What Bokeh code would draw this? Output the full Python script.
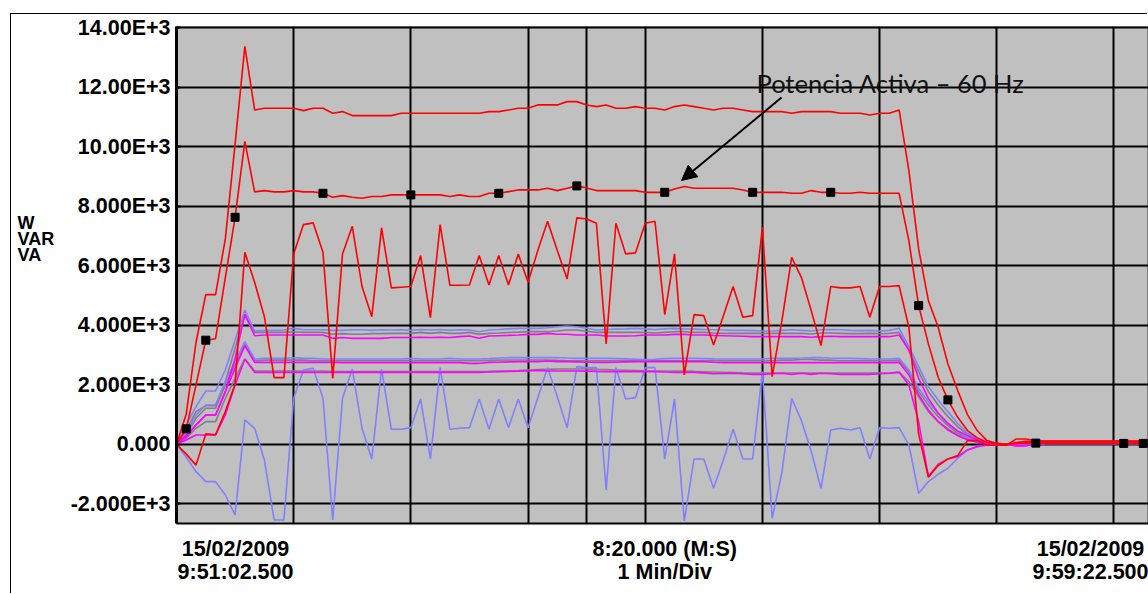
from bokeh.plotting import figure
from bokeh.models import Range1d, FixedTicker, Label, Arrow, NormalHead
from bokeh.embed import file_html
from bokeh.resources import INLINE

# ---------------- data ----------------
# samples every 5 s over 8:20 (500 s)
time_s = [5 * i for i in range(101)]

y_ticks = [-2000, 0, 2000, 4000, 6000, 8000, 10000, 12000, 14000]
y_tick_labels = ["-2.000E+3", "0.000", "2.000E+3", "4.000E+3", "6.000E+3",
                 "8.000E+3", "10.00E+3", "12.00E+3", "14.00E+3"]
x_grid_s = [60, 120, 180, 210, 240, 300, 360, 420, 480]

left_lines = ["15/02/2009", "9:51:02.500"]
center_lines = ["8:20.000 (M:S)", "1 Min/Div"]
right_lines = ["15/02/2009", "9:59:22.500"]
y_title_lines = ["W", "VAR", "VA"]
note_text = "Potencia Activa \u2013 60 Hz"

red_va = [0, 1022, 3430, 5030, 5030, 6905, 10090, 13378, 11240,
          11294, 11294, 11294, 11294, 11217, 11294, 11294, 11126, 11183, 11049, 11049,
          11049, 11049, 11049, 11126, 11126, 11126, 11126, 11126, 11126, 11126, 11126,
          11126, 11183, 11183, 11240, 11294, 11294, 11408, 11408, 11408, 11519, 11519,
          11408, 11351, 11408, 11294, 11294, 11351, 11294, 11294, 11240, 11351, 11408,
          11351, 11294, 11240, 11294, 11294, 11240, 11183, 11183, 11183, 11183, 11126,
          11183, 11183, 11183, 11183, 11126, 11126, 11126, 11072, 11126, 11126, 11240,
          9200, 6568, 4830, 3934, 2700, 1806, 1000, 462, 125, 34,
          0, 60, 100, 100, 100, 100, 100, 100, 100, 100, 100, 100, 100, 100, 100, 100]

red_w = [0, 520, 2000, 3500, 3550, 5600, 7630, 10185, 8484,
         8528, 8484, 8484, 8528, 8484, 8484, 8437, 8303, 8360, 8303, 8269,
         8330, 8330, 8384, 8384, 8384, 8384, 8384, 8384, 8330, 8384, 8330,
         8330, 8437, 8437, 8494, 8551, 8551, 8551, 8606, 8528, 8606, 8686,
         8618, 8528, 8528, 8528, 8528, 8528, 8470, 8470, 8470, 8585, 8663,
         8606, 8606, 8606, 8606, 8606, 8551, 8470, 8470, 8470, 8470, 8437,
         8437, 8528, 8470, 8470, 8437, 8437, 8470, 8437, 8437, 8437, 8437,
         6848, 4663, 3376, 2254, 1493, 908, 462, 216, 67, 34,
         0, 30, 50, 40, 30, 30, 30, 30, 30, 30, 30, 30, 30, 30, 30, 30]

red_var = [0, -330, -700, 350, 320, 1100, 2030, 6455, 5446,
           4290, 2240, 2240, 6400, 7385, 7442, 6455, 2218, 6400, 7328, 5302,
           4290, 7274, 5258, 5280, 5302, 6343, 4256, 7385, 5346, 5346, 5355,
           6343, 5355, 6343, 5355, 6400, 5446, 6511, 7497, 6511, 5560, 7610,
           7576, 7430, 3376, 7430, 6400, 6434, 7430, 7497, 4360, 6400, 2334,
           4360, 4325, 3342, 4310, 5302, 4270, 4325, 7296, 2276, 4157, 6287,
           5604, 4494, 3320, 5302, 5258, 5258, 5302, 4270, 5302, 5302, 5335,
           3934, 351, -1108, -716, -492, -379, 125, 125, -33, -33,
           -33, 180, 180, 120, 110, 110, 110, 110, 110, 110, 110, 110, 110, 110, 110, 110]

blue_var = [0, -437, -918, -1254, -1254, -1702, -2374, 818, 538,
            -526, -2542, -2542, 1546, 2498, 2554, 1546, -2542, 1546, 2531, 538,
            -493, 2531, 504, 504, 560, 1523, -493, 2576, 504, 538, 560,
            1523, 504, 1523, 560, 1523, 560, 1568, 2576, 1602, 560, 2610,
            2576, 2576, -1534, 2576, 1523, 1568, 2576, 2576, -493, 1523, -2576,
            -493, -493, -1478, -526, 504, -493, -493, 2442, -2486, -941, 1546,
            795, -235, -1478, 482, 538, 482, 560, -493, 560, 538, 560,
            -22, -1646, -1254, -1008, -806, -470, -190, -78, -22, 0,
            0, -45, -40, 0, 30, 30, 30, 30, 30, 30, 30, 30, 30, 30, 30, 30]

blue_va = [0, 650, 1266, 1792, 1792, 2498, 3506, 4514, 3808,
           3830, 3830, 3840, 3898, 3850, 3850, 3850, 3830, 3830, 3850, 3850,
           3830, 3850, 3840, 3850, 3830, 3860, 3840, 3860, 3830, 3850, 3840,
           3786, 3842, 3860, 3880, 3898, 3898, 3898, 3920, 3950, 3976, 3954,
           3900, 3842, 3860, 3870, 3880, 3898, 3880, 3860, 3880, 3898, 3880,
           3870, 3860, 3850, 3840, 3830, 3830, 3820, 3808, 3808, 3830, 3850,
           3830, 3808, 3850, 3860, 3850, 3830, 3820, 3830, 3808, 3830, 3900,
           3282, 2610, 1938, 1490, 1098, 706, 370, 180, 67, 0,
           0, -45, -40, 0, 40, 40, 40, 40, 40, 40, 40, 40, 40, 40, 40, 40]

blue_w = [0, 370, 986, 1322, 1322, 2106, 2778, 3450, 2867,
          2890, 2890, 2890, 2912, 2890, 2890, 2867, 2867, 2867, 2867, 2867,
          2867, 2867, 2867, 2867, 2890, 2867, 2867, 2867, 2890, 2867, 2867,
          2867, 2880, 2900, 2912, 2912, 2912, 2912, 2912, 2912, 2900, 2890,
          2890, 2890, 2890, 2880, 2870, 2860, 2845, 2860, 2880, 2890, 2890,
          2890, 2880, 2870, 2867, 2867, 2867, 2867, 2867, 2890, 2890, 2890,
          2900, 2912, 2912, 2900, 2890, 2890, 2880, 2867, 2867, 2867, 2890,
          2498, 1882, 1434, 1042, 706, 426, 224, 112, 34, 0,
          0, -45, -40, 0, 35, 35, 35, 35, 35, 35, 35, 35, 35, 35, 35, 35]

gray_va = [0, 480, 1100, 1300, 1300, 2100, 3226, 4346, 3763,
           3763, 3763, 3763, 3786, 3763, 3763, 3763, 3700, 3720, 3700, 3700,
           3720, 3720, 3730, 3730, 3730, 3763, 3730, 3763, 3730, 3730, 3763,
           3696, 3730, 3740, 3760, 3770, 3786, 3786, 3786, 3810, 3842, 3842,
           3800, 3763, 3763, 3763, 3763, 3763, 3763, 3740, 3763, 3786, 3786,
           3763, 3763, 3740, 3730, 3730, 3730, 3730, 3730, 3730, 3730, 3730,
           3730, 3710, 3740, 3740, 3730, 3720, 3720, 3730, 3720, 3730, 3763,
           3170, 2442, 1770, 1322, 930, 594, 314, 146, 56, 0,
           0, -20, -20, 10, 25, 25, 25, 25, 25, 25, 25, 25, 25, 25, 25, 25]

gray_w = [0, 314, 874, 1210, 1210, 1994, 2666, 3360, 2811,
          2830, 2830, 2830, 2830, 2830, 2811, 2811, 2811, 2811, 2811, 2811,
          2811, 2811, 2811, 2811, 2811, 2811, 2811, 2811, 2811, 2811, 2811,
          2811, 2820, 2830, 2834, 2834, 2834, 2834, 2834, 2820, 2811, 2811,
          2811, 2811, 2811, 2811, 2811, 2811, 2811, 2811, 2811, 2811, 2811,
          2811, 2811, 2811, 2811, 2811, 2811, 2811, 2811, 2811, 2830, 2830,
          2850, 2850, 2830, 2830, 2811, 2811, 2811, 2811, 2811, 2811, 2830,
          2442, 1770, 1322, 930, 627, 370, 202, 90, 22, 0,
          0, -20, -20, 10, 25, 25, 25, 25, 25, 25, 25, 25, 25, 25, 25, 25]

gray_low = [0, 202, 538, 762, 762, 1546, 2218, 2867, 2464,
            2464, 2464, 2464, 2464, 2464, 2464, 2464, 2442, 2442, 2442, 2442,
            2442, 2442, 2442, 2442, 2442, 2442, 2442, 2442, 2442, 2442, 2442,
            2442, 2450, 2460, 2464, 2480, 2500, 2510, 2520, 2531, 2531, 2531,
            2531, 2520, 2510, 2500, 2490, 2480, 2470, 2464, 2464, 2464, 2464,
            2450, 2440, 2430, 2420, 2410, 2400, 2397, 2397, 2397, 2397, 2397,
            2397, 2397, 2397, 2397, 2397, 2397, 2397, 2397, 2397, 2397, 2430,
            2106, 1602, 1098, 762, 515, 314, 179, 90, 22, 0,
            0, -20, -20, 10, 25, 25, 25, 25, 25, 25, 25, 25, 25, 25, 25, 25]

mag_va = [0, 314, 650, 986, 986, 1770, 2890, 4368, 3651,
          3674, 3674, 3674, 3674, 3674, 3674, 3674, 3562, 3590, 3562, 3562,
          3562, 3562, 3590, 3590, 3590, 3600, 3590, 3600, 3590, 3618, 3640,
          3562, 3640, 3650, 3660, 3674, 3696, 3696, 3730, 3700, 3700, 3674,
          3674, 3674, 3640, 3640, 3640, 3650, 3674, 3674, 3674, 3696, 3696,
          3674, 3674, 3660, 3650, 3640, 3630, 3618, 3618, 3618, 3618, 3618,
          3618, 3600, 3618, 3630, 3618, 3618, 3618, 3618, 3618, 3618, 3674,
          3170, 2218, 1546, 1042, 706, 448, 291, 146, 45, 0,
          0, -45, -40, 0, 45, 45, 45, 45, 45, 45, 45, 45, 45, 45, 45, 45]

mag_w = [0, 258, 650, 986, 986, 1770, 2554, 3315, 2755,
         2755, 2755, 2755, 2755, 2755, 2755, 2755, 2755, 2744, 2744, 2744,
         2744, 2744, 2744, 2744, 2744, 2744, 2744, 2744, 2744, 2744, 2722,
         2722, 2755, 2760, 2770, 2778, 2778, 2778, 2800, 2778, 2778, 2770,
         2760, 2755, 2755, 2760, 2770, 2778, 2778, 2778, 2778, 2778, 2778,
         2778, 2778, 2760, 2744, 2744, 2744, 2744, 2744, 2744, 2744, 2744,
         2744, 2744, 2744, 2744, 2744, 2744, 2744, 2744, 2744, 2744, 2755,
         2330, 1658, 1154, 762, 482, 291, 157, 67, 11, 0,
         0, -45, -40, 0, 45, 45, 45, 45, 45, 45, 45, 45, 45, 45, 45, 45]

mag_low = [0, 145, 314, 314, 314, 986, 1994, 2867, 2419,
           2419, 2419, 2419, 2419, 2419, 2419, 2419, 2419, 2419, 2419, 2419,
           2419, 2419, 2419, 2419, 2419, 2419, 2419, 2419, 2419, 2419, 2419,
           2419, 2430, 2440, 2450, 2460, 2464, 2486, 2464, 2464, 2464, 2464,
           2460, 2450, 2442, 2442, 2442, 2442, 2442, 2442, 2430, 2419, 2419,
           2419, 2400, 2374, 2380, 2386, 2370, 2352, 2352, 2370, 2386, 2352,
           2386, 2352, 2386, 2370, 2352, 2352, 2352, 2352, 2370, 2386, 2419,
           1994, 762, -1086, -672, -493, -414, -190, -78, -22, 0,
           0, -45, -40, 0, 45, 45, 45, 45, 45, 45, 45, 45, 45, 45, 45, 45]

# sample indices carrying the black square markers (on the W total trace)
marker_idx = [1, 3, 6, 15, 24, 33, 41, 50, 59, 67, 76, 79, 88, 97, 99]

# ---------------- layout (absolute page pixels) ----------------
PAGE_W, PAGE_H = 1148, 594
OFF_X, OFF_Y = 11, 14              # figure placed inside a thin page border
FRAME_L, FRAME_R, FRAME_T, FRAME_B = 176, 1148, 26, 523
X0, X1 = 0.0, 497.7
Y0, Y1 = -2662.0, 14044.0


def sx(px):
    return X0 + (px - FRAME_L) * (X1 - X0) / (FRAME_R - FRAME_L)


def sy(py):
    return Y1 - (py - FRAME_T) * (Y1 - Y0) / (FRAME_B - FRAME_T)


p = figure(width=PAGE_W - OFF_X, height=PAGE_H - OFF_Y,
           x_range=Range1d(X0, X1), y_range=Range1d(Y0, Y1),
           output_backend="svg", toolbar_location=None, title=None,
           min_border_left=FRAME_L - OFF_X, min_border_right=0,
           min_border_top=FRAME_T - OFF_Y, min_border_bottom=PAGE_H - FRAME_B)
p.margin = (OFF_Y, 0, 0, OFF_X)
p.styles = {"box-shadow": "-1px -1px 0px 0px #000000"}
p.background_fill_color = "#C0C0C0"
p.border_fill_color = "white"
p.outline_line_color = "#808080"
p.outline_line_width = 1

yt = FixedTicker(ticks=y_ticks)
p.yaxis.ticker = yt
p.ygrid.ticker = yt
p.yaxis.major_label_overrides = {t: s for t, s in zip(y_ticks, y_tick_labels)}
p.yaxis.major_label_text_font = "Liberation Sans"
p.yaxis.major_label_text_font_style = "bold"
p.yaxis.major_label_text_font_size = "21.5px"
p.yaxis.major_label_text_color = "black"
p.yaxis.axis_line_color = "black"
p.yaxis.axis_line_width = 3
p.yaxis.major_tick_in = 4
p.yaxis.major_tick_out = 0
p.yaxis.major_tick_line_width = 2
p.yaxis.major_tick_line_color = "black"
p.yaxis.minor_tick_line_color = None
p.yaxis.major_label_standoff = 6

# bottom axis: its tick labels carry the start / span / end time texts
label_pos = [sx(235), 250, sx(1093)]
p.xaxis.ticker = FixedTicker(ticks=label_pos)
p.xaxis.major_label_overrides = {
    label_pos[0]: "\n".join(left_lines),
    label_pos[1]: "\n".join(center_lines),
    label_pos[2]: "\n".join(right_lines),
}
p.xaxis.major_label_text_font = "Liberation Sans"
p.xaxis.major_label_text_font_style = "bold"
p.xaxis.major_label_text_font_size = "21.5px"
p.xaxis.major_label_text_line_height = 0.98
p.xaxis.major_label_text_color = "black"
p.xaxis.major_label_standoff = 13
p.xaxis.major_tick_line_color = None
p.xaxis.major_tick_in = 0
p.xaxis.major_tick_out = 0
p.xaxis.minor_tick_line_color = None
p.xaxis.axis_line_color = "black"
p.xaxis.axis_line_width = 2

p.xgrid.ticker = FixedTicker(ticks=x_grid_s)
for g in (p.xgrid, p.ygrid):
    g.grid_line_color = "black"
    g.grid_line_width = 2
    g.grid_line_alpha = 1.0

LW = 1.6
series = [
    (gray_va, "#808080"), (gray_w, "#808080"), (gray_low, "#808080"),
    (blue_var, "#8080FF"), (blue_va, "#8080FF"), (blue_w, "#8080FF"),
    (mag_va, "#FF00FF"), (mag_w, "#FF00FF"), (mag_low, "#FF00FF"),
    (red_var, "#FF0000"), (red_va, "#FF0000"), (red_w, "#FF0000"),
]
for vals, col in series:
    p.line(time_s[:len(vals)], vals, line_color=col, line_width=LW)

p.scatter([time_s[i] for i in marker_idx], [red_w[i] for i in marker_idx],
          marker="square", size=8, fill_color="black", line_color="black")

# annotation and arrow
p.add_layout(Label(x=sx(756), y=sy(82), text=note_text, text_font="Lato",
                   text_font_size="25.5px", text_color="#111111",
                   text_baseline="alphabetic", text_align="left"))
p.add_layout(Arrow(end=NormalHead(size=15, fill_color="black", line_color="black"),
                   x_start=sx(781), y_start=sy(97), x_end=sx(681), y_end=sy(180),
                   line_color="black", line_width=2))

# axis title at the far left (side panel, so it is not clipped to the frame)
p.add_layout(Label(x=sx(17), y=sy(212.5), text="\n".join(y_title_lines),
                   text_font="Liberation Sans", text_font_style="bold",
                   text_font_size="18px", text_color="black", text_line_height=0.79,
                   text_baseline="top", text_align="left"), "left")

open("out.html", "w").write(file_html(p, INLINE))
